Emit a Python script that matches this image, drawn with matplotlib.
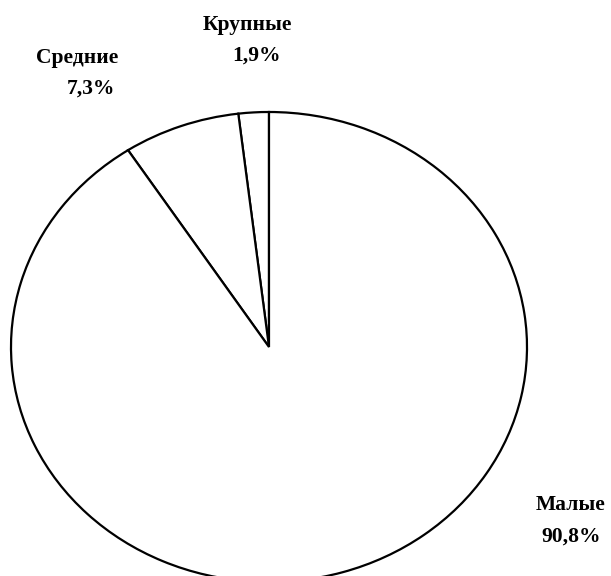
import matplotlib
matplotlib.use("Agg")
import matplotlib.pyplot as plt

# data
categories = ["Крупные", "Средние", "Малые"]
shares = [1.9, 7.3, 90.8]

# label layout (pixel positions of the two lines: name, value)
name_pos = [(247, 25), (77, 58), (571, 505)]
value_pos = [(256, 56), (91, 89), (571, 537)]

W, H = 611, 576
cx, cy = 269, 347      # pie centre in pixels
rx, ry = 258, 235      # pie radii in pixels (slightly stretched)

fig = plt.figure(figsize=(W / 100, H / 100), dpi=100)
ax = fig.add_axes([0, 0, 1, 1])

ax.pie(shares, startangle=90, counterclock=True,
       colors=["white"] * len(shares),
       wedgeprops=dict(edgecolor="black", linewidth=1.6))

ax.set_aspect("auto")
ax.set_xlim(-cx / rx, (W - cx) / rx)
ax.set_ylim((cy - H) / ry, cy / ry)
ax.axis("off")

def px(x, y):
    return (x - cx) / rx, (cy - y) / ry

font = dict(family="Liberation Serif", weight="bold", size=15.5,
            ha="center", va="center", color="black")
for cat, val, npos, vpos in zip(categories, shares, name_pos, value_pos):
    ax.text(*px(*npos), cat, **font)
    ax.text(*px(*vpos), f"{val:.1f}%".replace(".", ","), **font)

fig.savefig("out.png", dpi=100, facecolor="white")
